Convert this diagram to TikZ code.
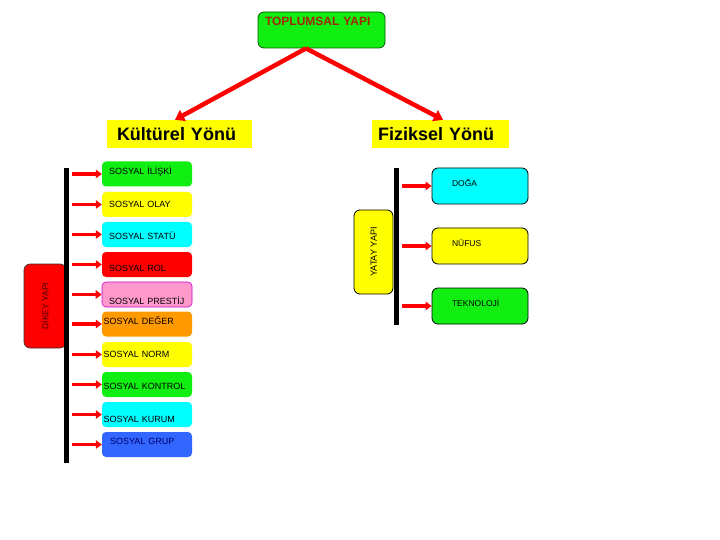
\documentclass[tikz,border=0pt]{standalone}
\usepackage{fontspec}
\setmainfont{Liberation Sans}
\usetikzlibrary{positioning,calc,arrows.meta}
\tikzset{font=\fontsize{9}{10}\selectfont}
\definecolor{kgreen}{RGB}{17,238,17}
\definecolor{kyellow}{RGB}{255,255,0}
\definecolor{kcyan}{RGB}{0,255,255}
\definecolor{kred}{RGB}{255,0,0}
\definecolor{kpink}{RGB}{255,153,204}
\definecolor{kpurple}{RGB}{204,0,204}
\definecolor{korange}{RGB}{255,153,0}
\definecolor{kblue}{RGB}{51,102,255}
\definecolor{knavy}{RGB}{0,0,110}
\definecolor{kbrown}{RGB}{160,40,0}
\definecolor{kdgreen}{RGB}{0,90,0}

\begin{document}
\begin{tikzpicture}[x=1pt,y=-1pt]
	\useasboundingbox (0,0) rectangle (720,540);
	\begin{scope}
		\tikzstyle{every node}=[align=left, inner ysep=0pt, text height=6.5pt, text depth=0pt]
		\tikzstyle{sbox}=[rounded corners=4pt, minimum height=25pt, inner xsep=7pt, text width=76pt]
		\tikzstyle{stight}=[sbox, inner xsep=1.5pt, text width=87pt]
		\tikzstyle{fbox}=[draw, line width=0.8pt, rounded corners=6pt, minimum height=36pt, inner xsep=20pt, text width=56pt, text depth=6pt, font=\fontsize{8.5}{10}\selectfont]
		\tikzstyle{ybox}=[fill=kyellow, minimum height=28pt, text height=13pt, font=\fontsize{18}{20}\selectfont\bfseries]
		\tikzstyle{kol}=[kred, line width=3.4pt, -{Triangle[length=6pt,width=8.5pt]}]
		\tikzstyle{ana}=[kred, line width=4.5pt, -{Triangle[length=9pt,width=12pt]}]

		% ust kisim
		\node [draw=kdgreen, line width=0.8pt, fill=kgreen, rounded corners=6pt, minimum height=36pt, inner xsep=7pt, text width=113pt, text height=8.5pt, text depth=16.5pt, text=kbrown, font=\fontsize{12}{13}\selectfont\bfseries] (toplum) at (321.5,30) {TOPLUMSAL YAPI};
		\node [ybox, inner xsep=10pt, text width=125pt] (kultur) at (179.5,134) {Kültürel Yönü};
		\node [ybox, inner xsep=6pt, text width=125pt] (fizik) at (440.5,134) {Fiziksel Yönü};

		\draw [ana] ($(toplum.south)+(-15.5,0)$) to ($(kultur.north)+(-4.5,0)$);
		\draw [ana] ($(toplum.south)+(-15.5,0)$) to ($(fizik.north)+(2.5,0)$);

		% dikey yapi
		\node [draw=black!80, line width=0.6pt, fill=kred, rounded corners=6pt, rotate=90, minimum width=84pt, minimum height=42pt, text=black!75!red, font=\fontsize{8.5}{10}\selectfont] (dikey) at (45,306) {DİKEY YAPI};
		\coordinate (dtop) at (66.5,168);
		\coordinate (dbot) at (66.5,463);
		\draw [line width=4.5pt] (dtop) to (dbot);

		\node [sbox, fill=kgreen, text depth=6pt] (iliski) at (147,174) {SOSYAL İLİŞKİ};
		\node [sbox, fill=kyellow] (olay) at (147,204.5) {SOSYAL OLAY};
		\node [sbox, fill=kcyan, text height=9.5pt] (statu) at (147,234.5) {SOSYAL STATÜ};
		\node [sbox, fill=kred, text height=14.5pt] (rol) at (147,264.5) {SOSYAL ROL};
		\node [sbox, draw=kpurple, line width=0.6pt, fill=kpink, text height=20.5pt] (prestij) at (147,294.5) {SOSYAL PRESTİJ};
		\node [stight, fill=korange, text depth=6pt] (deger) at (147,324) {SOSYAL DEĞER};
		\node [stight, fill=kyellow] (norm) at (147,354.5) {SOSYAL NORM};
		\node [stight, fill=kgreen, text height=9.5pt] (kontrol) at (147,384.5) {SOSYAL KONTROL};
		\node [stight, fill=kcyan, text height=15.5pt] (kurum) at (147,414.5) {SOSYAL KURUM};
		\node [sbox, fill=kblue, text=knavy, inner xsep=8pt, text width=74pt, text depth=7pt] (grup) at (147,444.5) {SOSYAL GRUP};

		\draw [kol] ($(iliski.west -| dtop)+(5.5,0)$) to (iliski.west);
		\draw [kol] ($(olay.west -| dtop)+(5.5,0)$) to (olay.west);
		\draw [kol] ($(statu.west -| dtop)+(5.5,0)$) to (statu.west);
		\draw [kol] ($(rol.west -| dtop)+(5.5,0)$) to (rol.west);
		\draw [kol] ($(prestij.west -| dtop)+(5.5,0)$) to (prestij.west);
		\draw [kol] ($(deger.west -| dtop)+(5.5,0)$) to (deger.west);
		\draw [kol] ($(norm.west -| dtop)+(5.5,0)$) to (norm.west);
		\draw [kol] ($(kontrol.west -| dtop)+(5.5,0)$) to (kontrol.west);
		\draw [kol] ($(kurum.west -| dtop)+(5.5,0)$) to (kurum.west);
		\draw [kol] ($(grup.west -| dtop)+(5.5,0)$) to (grup.west);

		% yatay yapi
		\node [draw, line width=0.8pt, fill=kyellow, rounded corners=6pt, rotate=90, minimum width=84pt, minimum height=39pt, font=\fontsize{9}{10}\selectfont] (yatay) at (373.5,252) {YATAY YAPI};
		\coordinate (ytop) at (396.5,168);
		\coordinate (ybot) at (396.5,325);
		\draw [line width=4.5pt] (ytop) to (ybot);

		\node [fbox, fill=kcyan] (doga) at (480,186) {DOĞA};
		\node [fbox, fill=kyellow] (nufus) at (480,246) {NÜFUS};
		\node [fbox, fill=kgreen] (tekno) at (480,306) {TEKNOLOJİ};

		\draw [kol] ($(doga.west -| ytop)+(5.5,0)$) to (doga.west);
		\draw [kol] ($(nufus.west -| ytop)+(5.5,0)$) to (nufus.west);
		\draw [kol] ($(tekno.west -| ytop)+(5.5,0)$) to (tekno.west);
	\end{scope}
\end{tikzpicture}
\end{document}
